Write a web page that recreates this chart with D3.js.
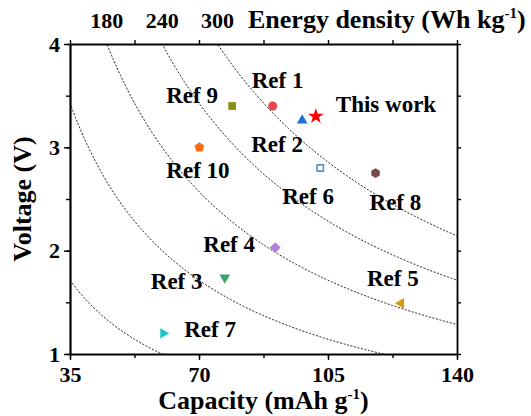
<!DOCTYPE html>
<html>
<head>
<meta charset="utf-8">
<script src="https://cdn.jsdelivr.net/npm/d3@7"></script>
<style>
  html, body { margin: 0; padding: 0; background: #fff; }
  svg { display: block; }
  text { font-family: "Liberation Serif", "Times New Roman", serif; font-weight: bold; fill: #000; }
</style>
</head>
<body>
<svg id="chart" width="531" height="416"></svg>
<script>
// ---- data ----
const refNames   = ["Ref 1", "This work", "Ref 2", "Ref 6", "Ref 8", "Ref 9", "Ref 10", "Ref 4", "Ref 3", "Ref 7", "Ref 5"];
const capacities = [90.0, 101.7, 98.0, 102.9, 117.9, 79.0, 70.1, 90.7, 77.0, 60.3, 124.8];   // mAh g-1
const voltages   = [3.40, 3.30, 3.26, 2.80, 2.75, 3.40, 3.00, 2.03, 1.74, 1.20, 1.49];       // V
const energyLevels = [60, 120, 180, 240, 300];      // Wh kg-1 iso-energy lines
const energyTickLabels = ["180", "240", "300"];     // values labelled along the top
const xTicks = [35, 70, 105, 140];
const yTicks = [1, 2, 3, 4];

// ---- layout ----
const plot = { left: 70, right: 457, top: 44, bottom: 354 };
const svg = d3.select("#chart");

const x = d3.scaleLinear().domain([35, 140]).range([plot.left, plot.right]);
const y = d3.scaleLinear().domain([1, 4]).range([plot.bottom, plot.top]);

// regular polygon symbol (used for hexagon and pentagon markers)
function polygonSymbol(n, start) {
  return {
    draw(ctx, size) {
      const r = Math.sqrt(size / (n / 2 * Math.sin(2 * Math.PI / n)));
      for (let i = 0; i < n; i++) {
        const a = start + i * 2 * Math.PI / n;
        const px = r * Math.cos(a), py = r * Math.sin(a);
        if (i === 0) ctx.moveTo(px, py); else ctx.lineTo(px, py);
      }
      ctx.closePath();
    }
  };
}
const hexagon = polygonSymbol(6, -Math.PI / 2);
const pentagon = polygonSymbol(5, -Math.PI / 2);

// marker look for each reference
const markerStyle = {
  "Ref 1":     { type: d3.symbolCircle,   size: 64, rot: 0,   fill: "#e8474d" },
  "This work": { type: d3.symbolStar,     size: 78, rot: 0,   fill: "#ff0000" },
  "Ref 2":     { type: d3.symbolTriangle, size: 50, rot: 0,   fill: "#1f6fd8" },
  "Ref 6":     { type: d3.symbolSquare,   size: 40, rot: 0,   fill: "#fff", stroke: "#5a8fcc" },
  "Ref 8":     { type: hexagon,           size: 62, rot: 0,   fill: "#7b4949" },
  "Ref 9":     { type: d3.symbolSquare,   size: 60, rot: 0,   fill: "#8c8c10" },
  "Ref 10":    { type: pentagon,          size: 62, rot: 0,   fill: "#ff6a10" },
  "Ref 4":     { type: d3.symbolSquare,   size: 58, rot: 45,  fill: "#b27de0" },
  "Ref 3":     { type: d3.symbolTriangle, size: 50, rot: 180, fill: "#3aa36a" },
  "Ref 7":     { type: d3.symbolTriangle, size: 46, rot: 90,  fill: "#18c8c8" },
  "Ref 5":     { type: d3.symbolTriangle, size: 50, rot: -90, fill: "#d49c10" }
};
// text placement relative to the marker (left edge, baseline)
const labelOffset = {
  "Ref 1": [-21, -18], "This work": [20, -4], "Ref 2": [-51, 32], "Ref 6": [-38, 36],
  "Ref 8": [-6, 37], "Ref 9": [-66, -3], "Ref 10": [-33, 31], "Ref 4": [-72, 4],
  "Ref 3": [-74, 11], "Ref 7": [21, 4], "Ref 5": [-34, -17]
};

// ---- iso-energy curves (V = E / C) ----
svg.append("clipPath").attr("id", "plotClip")
  .append("rect")
  .attr("x", plot.left).attr("y", plot.top)
  .attr("width", plot.right - plot.left).attr("height", plot.bottom - plot.top);

const capSamples = d3.range(35, 140.001, 0.25);
const curve = d3.line().x(d => x(d[0])).y(d => y(d[1]));
svg.append("g").attr("clip-path", "url(#plotClip)")
  .selectAll("path").data(energyLevels).join("path")
  .attr("d", e => curve(capSamples.map(c => [c, e / c]).filter(p => p[1] <= 4.3 && p[1] >= 0.8)))
  .attr("fill", "none")
  .attr("stroke", "#000")
  .attr("stroke-width", 0.9)
  .attr("stroke-dasharray", "2,1.6");

// ---- axes ----
const minorX = d3.range(35, 140.001, 17.5);
const minorY = d3.range(1, 4.001, 0.5);

function styleAxis(g, width) {
  g.select(".domain").attr("stroke", "#000").attr("stroke-width", width);
  g.selectAll(".tick line").attr("stroke", "#000").attr("stroke-width", 1.4);
}
function styleLabels(g) {
  g.select(".domain").remove();
  g.selectAll(".tick line").attr("stroke", "#000").attr("stroke-width", 1.4);
  g.selectAll("text")
    .attr("font-size", 22)
    .attr("font-family", "Liberation Serif, serif")
    .attr("font-weight", "bold")
    .attr("fill", "#000");
}

// bottom
svg.append("g").attr("transform", `translate(0,${plot.bottom})`)
  .call(d3.axisBottom(x).tickValues(minorX).tickSize(4).tickFormat("").tickSizeOuter(0))
  .call(g => styleAxis(g, 2.2));
svg.append("g").attr("transform", `translate(0,${plot.bottom})`)
  .call(d3.axisBottom(x).tickValues(xTicks).tickSize(6).tickPadding(6).tickFormat(d3.format("d")).tickSizeOuter(0))
  .call(styleLabels);

// top
svg.append("g").attr("transform", `translate(0,${plot.top})`)
  .call(d3.axisTop(x).tickValues(minorX).tickSize(4).tickFormat("").tickSizeOuter(0))
  .call(g => styleAxis(g, 1.8));

// left
svg.append("g").attr("transform", `translate(${plot.left},0)`)
  .call(d3.axisLeft(y).tickValues(minorY).tickSize(4).tickFormat("").tickSizeOuter(0))
  .call(g => styleAxis(g, 2.2));
svg.append("g").attr("transform", `translate(${plot.left},0)`)
  .call(d3.axisLeft(y).tickValues(yTicks).tickSize(6).tickPadding(4).tickFormat(d3.format("d")).tickSizeOuter(0))
  .call(styleLabels);

// right
svg.append("g").attr("transform", `translate(${plot.right},0)`)
  .call(d3.axisRight(y).tickValues(minorY).tickSize(4).tickFormat("").tickSizeOuter(0))
  .call(g => styleAxis(g, 1.8));

// ---- axis titles ----
const xTitle = svg.append("text")
  .attr("x", (plot.left + plot.right) / 2).attr("y", 409)
  .attr("text-anchor", "middle").attr("font-size", 26);
xTitle.append("tspan").text("Capacity (mAh g");
xTitle.append("tspan").attr("font-size", 15).attr("dy", -10).text("-1");
xTitle.append("tspan").attr("dy", 10).text(")");

svg.append("text")
  .attr("transform", `translate(31,${(plot.top + plot.bottom) / 2}) rotate(-90)`)
  .attr("text-anchor", "middle").attr("font-size", 26)
  .text("Voltage (V)");

const eTitle = svg.append("text")
  .attr("x", 248).attr("y", 28)
  .attr("font-size", 26);
eTitle.append("tspan").text("Energy density (Wh kg");
eTitle.append("tspan").attr("font-size", 15).attr("dy", -10).text("-1");
eTitle.append("tspan").attr("dy", 10).text(")");

// energy values where the curves meet the top edge (V = 4)
svg.append("g").selectAll("text").data(energyTickLabels).join("text")
  .attr("x", d => x(+d / y.domain()[1]))
  .attr("y", 28)
  .attr("text-anchor", "middle")
  .attr("font-size", 22)
  .text(d => d);

// ---- markers ----
const pts = refNames.map((name, i) => ({ name, c: capacities[i], v: voltages[i] }));
svg.append("g").selectAll("path").data(pts).join("path")
  .attr("transform", d => `translate(${x(d.c)},${y(d.v)}) rotate(${markerStyle[d.name].rot})`)
  .attr("d", d => d3.symbol(markerStyle[d.name].type, markerStyle[d.name].size)())
  .attr("fill", d => markerStyle[d.name].fill)
  .attr("stroke", d => markerStyle[d.name].stroke || "none")
  .attr("stroke-width", 1.6);

svg.append("g").selectAll("text").data(pts).join("text")
  .attr("x", d => x(d.c) + labelOffset[d.name][0])
  .attr("y", d => y(d.v) + labelOffset[d.name][1])
  .attr("font-size", 23)
  .text(d => d.name);
</script>
</body>
</html>
